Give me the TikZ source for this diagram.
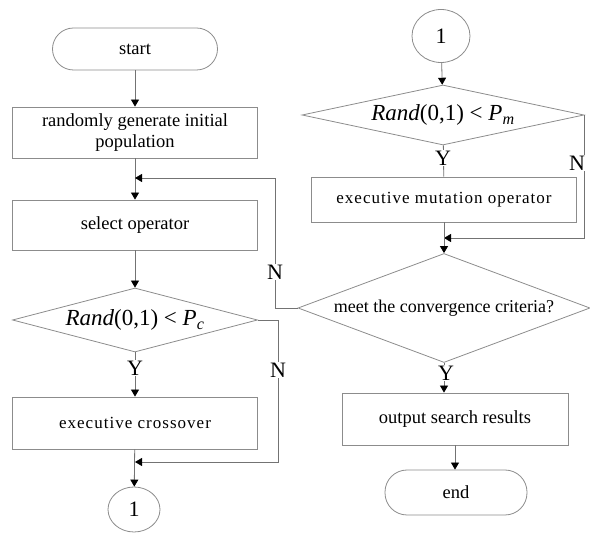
\documentclass[tikz,border=0pt]{standalone}
\usepackage{fontspec}
\setmainfont{Liberation Serif}
\usetikzlibrary{arrows.meta,shapes.geometric}
\begin{document}
\begin{tikzpicture}[x=1pt,y=-1pt,
 line/.style={draw=black!55, line width=0.8pt},
 arr/.style={line, -{Triangle[width=8pt,length=7pt,color=black]}},
 box/.style={draw=black!45, line width=0.8pt, rectangle, minimum width=245pt, minimum height=51pt, inner sep=2pt, align=center, font=\fontsize{18.5}{21}\selectfont},
 sbox/.style={box, font=\fontsize{17}{20}\selectfont\addfontfeatures{LetterSpace=6}},
 term/.style={draw=black!45, line width=0.8pt, rectangle, rounded corners=21pt, minimum width=165pt, minimum height=42pt, font=\fontsize{18.5}{21}\selectfont},
 conn/.style={draw=black!45, line width=0.8pt, ellipse, inner sep=0pt, font=\fontsize{22}{24}\selectfont},
 dec/.style={draw=black!45, line width=0.8pt, diamond, inner sep=0pt},
 lbl/.style={fill=white, inner sep=1pt, font=\fontsize{22}{24}\selectfont},
 formula/.style={font=\fontsize{23}{27}\selectfont}
]
\useasboundingbox (0,0) rectangle (590,534);
% left column
\node[term] (start) at (135,49) {start};
\node[box] (init) at (135,132.5) {randomly generate initial\\population};
\node[box, minimum height=50pt] (select) at (135,225) {select operator};
\node[dec, formula, minimum width=245pt, minimum height=64pt, aspect=3.8] (pc) at (135,320) {\textit{Rand}(0,1) < \textit{P}\textsubscript{\textit{c}}};
\node[sbox, minimum height=52pt] (cross) at (135,423) {executive crossover};
\node[conn, minimum width=52pt, minimum height=45pt] (c1node) at (134,509.5) {1};
\coordinate (m1) at (135,178);
\coordinate (k1) at (275,178);
\coordinate (m2) at (135,462);
\coordinate (k2) at (278,462);
% right column
\node[conn, minimum width=58pt, minimum height=53pt] (c2node) at (441,36) {1};
\node[dec, formula, minimum width=282pt, minimum height=60pt, aspect=4.7] (pm) at (443,115) {\textit{Rand}(0,1) < \textit{P}\textsubscript{\textit{m}}};
\node[sbox, minimum width=265pt, minimum height=45pt] (mut) at (444,199.5) {executive mutation operator};
\node[dec, font=\fontsize{18}{21}\selectfont, minimum width=292pt, minimum height=109pt, aspect=2.7] (conv) at (444,308) {meet the convergence criteria?};
\node[box, minimum width=226pt, minimum height=52pt] (out) at (455,419) {output search results};
\node[term, minimum width=142pt, minimum height=45pt, rounded corners=22pt] (end) at (456,492.5) {end};
\coordinate (m3) at (444,238);
% connectors left
\draw[arr] (start) -- (init);
\draw[arr] (init) -- (select);
\draw[arr] (select) -- (pc);
\draw[arr] (pc) -- (cross);
\draw[arr] (cross) -- (c1node);
\draw[arr] (conv.west) -| (k1) -- (m1);
\draw[arr] (pc.east) -| (k2) -- (m2);
% connectors right
\draw[arr] (c2node) -- (pm);
\draw[line] (pm) -- (mut);
\draw[arr] (pm.east) -- (pm.east |- m3) -- (m3);
\draw[arr] (mut) -- (conv);
\draw[arr] (conv.south) -- (conv.south |- out.north);
\draw[arr] (out.south) -- (out.south |- end.north);
% labels
\node[lbl] (yl) at (135,368) {Y};
\node[lbl] (nl1) at (275,272) {N};
\node[lbl] (nl2) at (278,370) {N};
\node[lbl] (yr) at (443,158) {Y};
\node[lbl] (nr) at (577,163) {N};
\node[lbl] (yr2) at (446,373) {Y};
\end{tikzpicture}
\end{document}
